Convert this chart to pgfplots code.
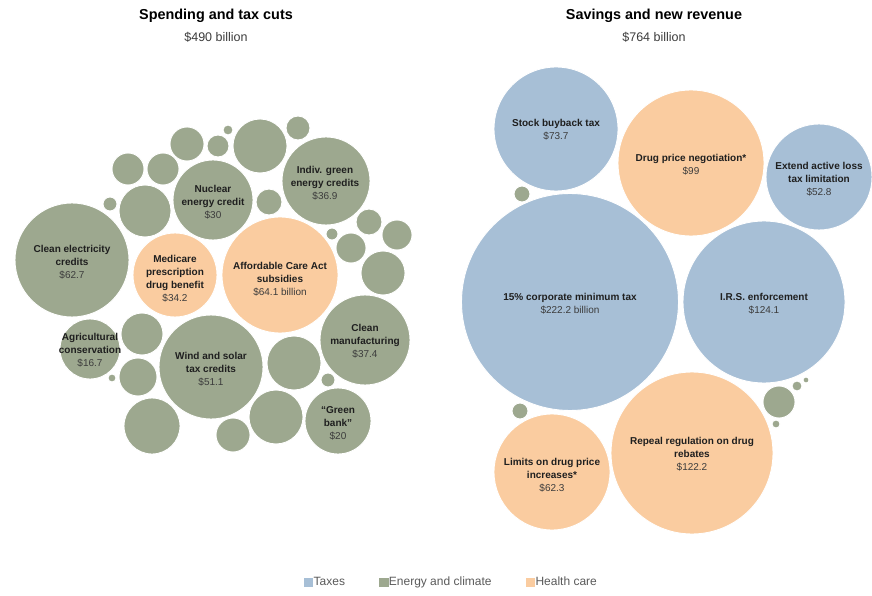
\documentclass[border=0pt]{standalone}
\usepackage{pgfplots}
\pgfplotsset{compat=1.18}
\usepackage{pgfplotstable}
\usepackage{fontspec}
\setmainfont{Liberation Sans}

\definecolor{taxblue}{RGB}{167,191,214}
\definecolor{energygreen}{RGB}{157,168,143}
\definecolor{healthorange}{RGB}{250,204,160}
\definecolor{valgray}{RGB}{60,60,60}
\definecolor{leggray}{RGB}{90,90,90}

% bubble centres and radii, in pixels of the original (y measured downwards)
\pgfplotstableread{
x y r
556 129 62
819 177 53
570 302 108.5
764 302 81
}\taxes

\pgfplotstableread{
x y r
175 275 42
280 275 58
691 163 73
552 472 58
692 453 81
}\health

\pgfplotstableread{
x y r
72 260 57
213 200 40
326 181 44
365 340 45
90 349 30
211 367 52
338 421 33
128 169 16
163 169 16
187 144 17
218 146 11
228 130 5
260 146 27
298 128 12
145 211 26
110 204 7
269 202 13
332 234 6
369 222 13
397 235 15
351 248 15
383 273 22
142 334 21
138 377 19
112 378 4
152 426 28
233 435 17
276 417 27
294 363 27
328 380 7
522 194 8
520 411 8
779 402 16
797 386 5
806 380 3
776 424 4
}\energy

\pgfplotsset{
  bubbles/.style={
    scatter, only marks, mark=*,
    scatter/use mapped color={draw=white, fill=#1},
    line width=0.9pt,
    visualization depends on={\thisrow{r} \as \rr},
    scatter/@pre marker code/.append style={/tikz/mark size=\rr},
  },
}

\newcommand{\lab}[3]{\node[align=center, font=\fontsize{10}{13}\selectfont, text=black!88] at (#1,595-#2) {#3};}

\begin{document}
\begin{tikzpicture}
\begin{axis}[
  name=ax,
  x=1pt, y=1pt,
  xmin=0, xmax=872, ymin=0, ymax=595,
  hide axis, clip=false,
  legend columns=3,
  legend style={at={(0.517,0.021)}, anchor=center, draw=none,
    font=\fontsize{12}{14}\selectfont, text=leggray,
    nodes={text height=0.72em, text depth=0.22em, inner xsep=1pt},
    /tikz/every even column/.append style={column sep=33pt}},
  legend image code/.code={\fill[#1] (0pt,-4pt) rectangle (8.5pt,4.5pt);},
]
\path (axis cs:0,0) rectangle (axis cs:872,595);

\addplot[bubbles=taxblue, forget plot] table[x=x, y expr=595-\thisrow{y}] {\taxes};
\addplot[bubbles=healthorange, forget plot] table[x=x, y expr=595-\thisrow{y}] {\health};
\addplot[bubbles=energygreen, forget plot] table[x=x, y expr=595-\thisrow{y}] {\energy};

\addlegendimage{taxblue}
\addlegendentry{Taxes}
\addlegendimage{energygreen}
\addlegendentry{Energy and climate}
\addlegendimage{healthorange}
\addlegendentry{Health care}

% titles
\node[font=\bfseries\fontsize{14.4}{16}\selectfont] at (axis cs:216,595-16) {Spending and tax cuts};
\node[font=\fontsize{12.5}{14}\selectfont, text=valgray] at (axis cs:216,595-37) {\$490 billion};
\node[font=\bfseries\fontsize{14.4}{16}\selectfont] at (axis cs:654,595-16) {Savings and new revenue};
\node[font=\fontsize{12.5}{14}\selectfont, text=valgray] at (axis cs:654,595-37) {\$764 billion};
\end{axis}

% bubble labels, on top of the bubbles
\begin{scope}[shift={(ax.south west)}, x=1pt, y=1pt]
\lab{72}{262}{\textbf{Clean electricity}\\\textbf{credits}\\\textcolor{valgray}{\$62.7}}
\lab{175}{279}{\textbf{Medicare}\\\textbf{prescription}\\\textbf{drug benefit}\\\textcolor{valgray}{\$34.2}}
\lab{280}{279}{\textbf{Affordable Care Act}\\\textbf{subsidies}\\\textcolor{valgray}{\$64.1 billion}}
\lab{213}{202}{\textbf{Nuclear}\\\textbf{energy credit}\\\textcolor{valgray}{\$30}}
\lab{325}{183}{\textbf{Indiv. green}\\\textbf{energy credits}\\\textcolor{valgray}{\$36.9}}
\lab{365}{341}{\textbf{Clean}\\\textbf{manufacturing}\\\textcolor{valgray}{\$37.4}}
\lab{90}{350}{\textbf{Agricultural}\\\textbf{conservation}\\\textcolor{valgray}{\$16.7}}
\lab{211}{369}{\textbf{Wind and solar}\\\textbf{tax credits}\\\textcolor{valgray}{\$51.1}}
\lab{338}{423}{\textbf{``Green}\\\textbf{bank''}\\\textcolor{valgray}{\$20}}
\lab{556}{130}{\textbf{Stock buyback tax}\\\textcolor{valgray}{\$73.7}}
\lab{691}{165}{\textbf{Drug price negotiation*}\\\textcolor{valgray}{\$99}}
\lab{819}{179}{\textbf{Extend active loss}\\\textbf{tax limitation}\\\textcolor{valgray}{\$52.8}}
\lab{570}{304}{\textbf{15\% corporate minimum tax}\\\textcolor{valgray}{\$222.2 billion}}
\lab{764}{304}{\textbf{I.R.S. enforcement}\\\textcolor{valgray}{\$124.1}}
\lab{552}{475}{\textbf{Limits on drug price}\\\textbf{increases*}\\\textcolor{valgray}{\$62.3}}
\lab{692}{454}{\textbf{Repeal regulation on drug}\\\textbf{rebates}\\\textcolor{valgray}{\$122.2}}
\end{scope}
\end{tikzpicture}
\end{document}
